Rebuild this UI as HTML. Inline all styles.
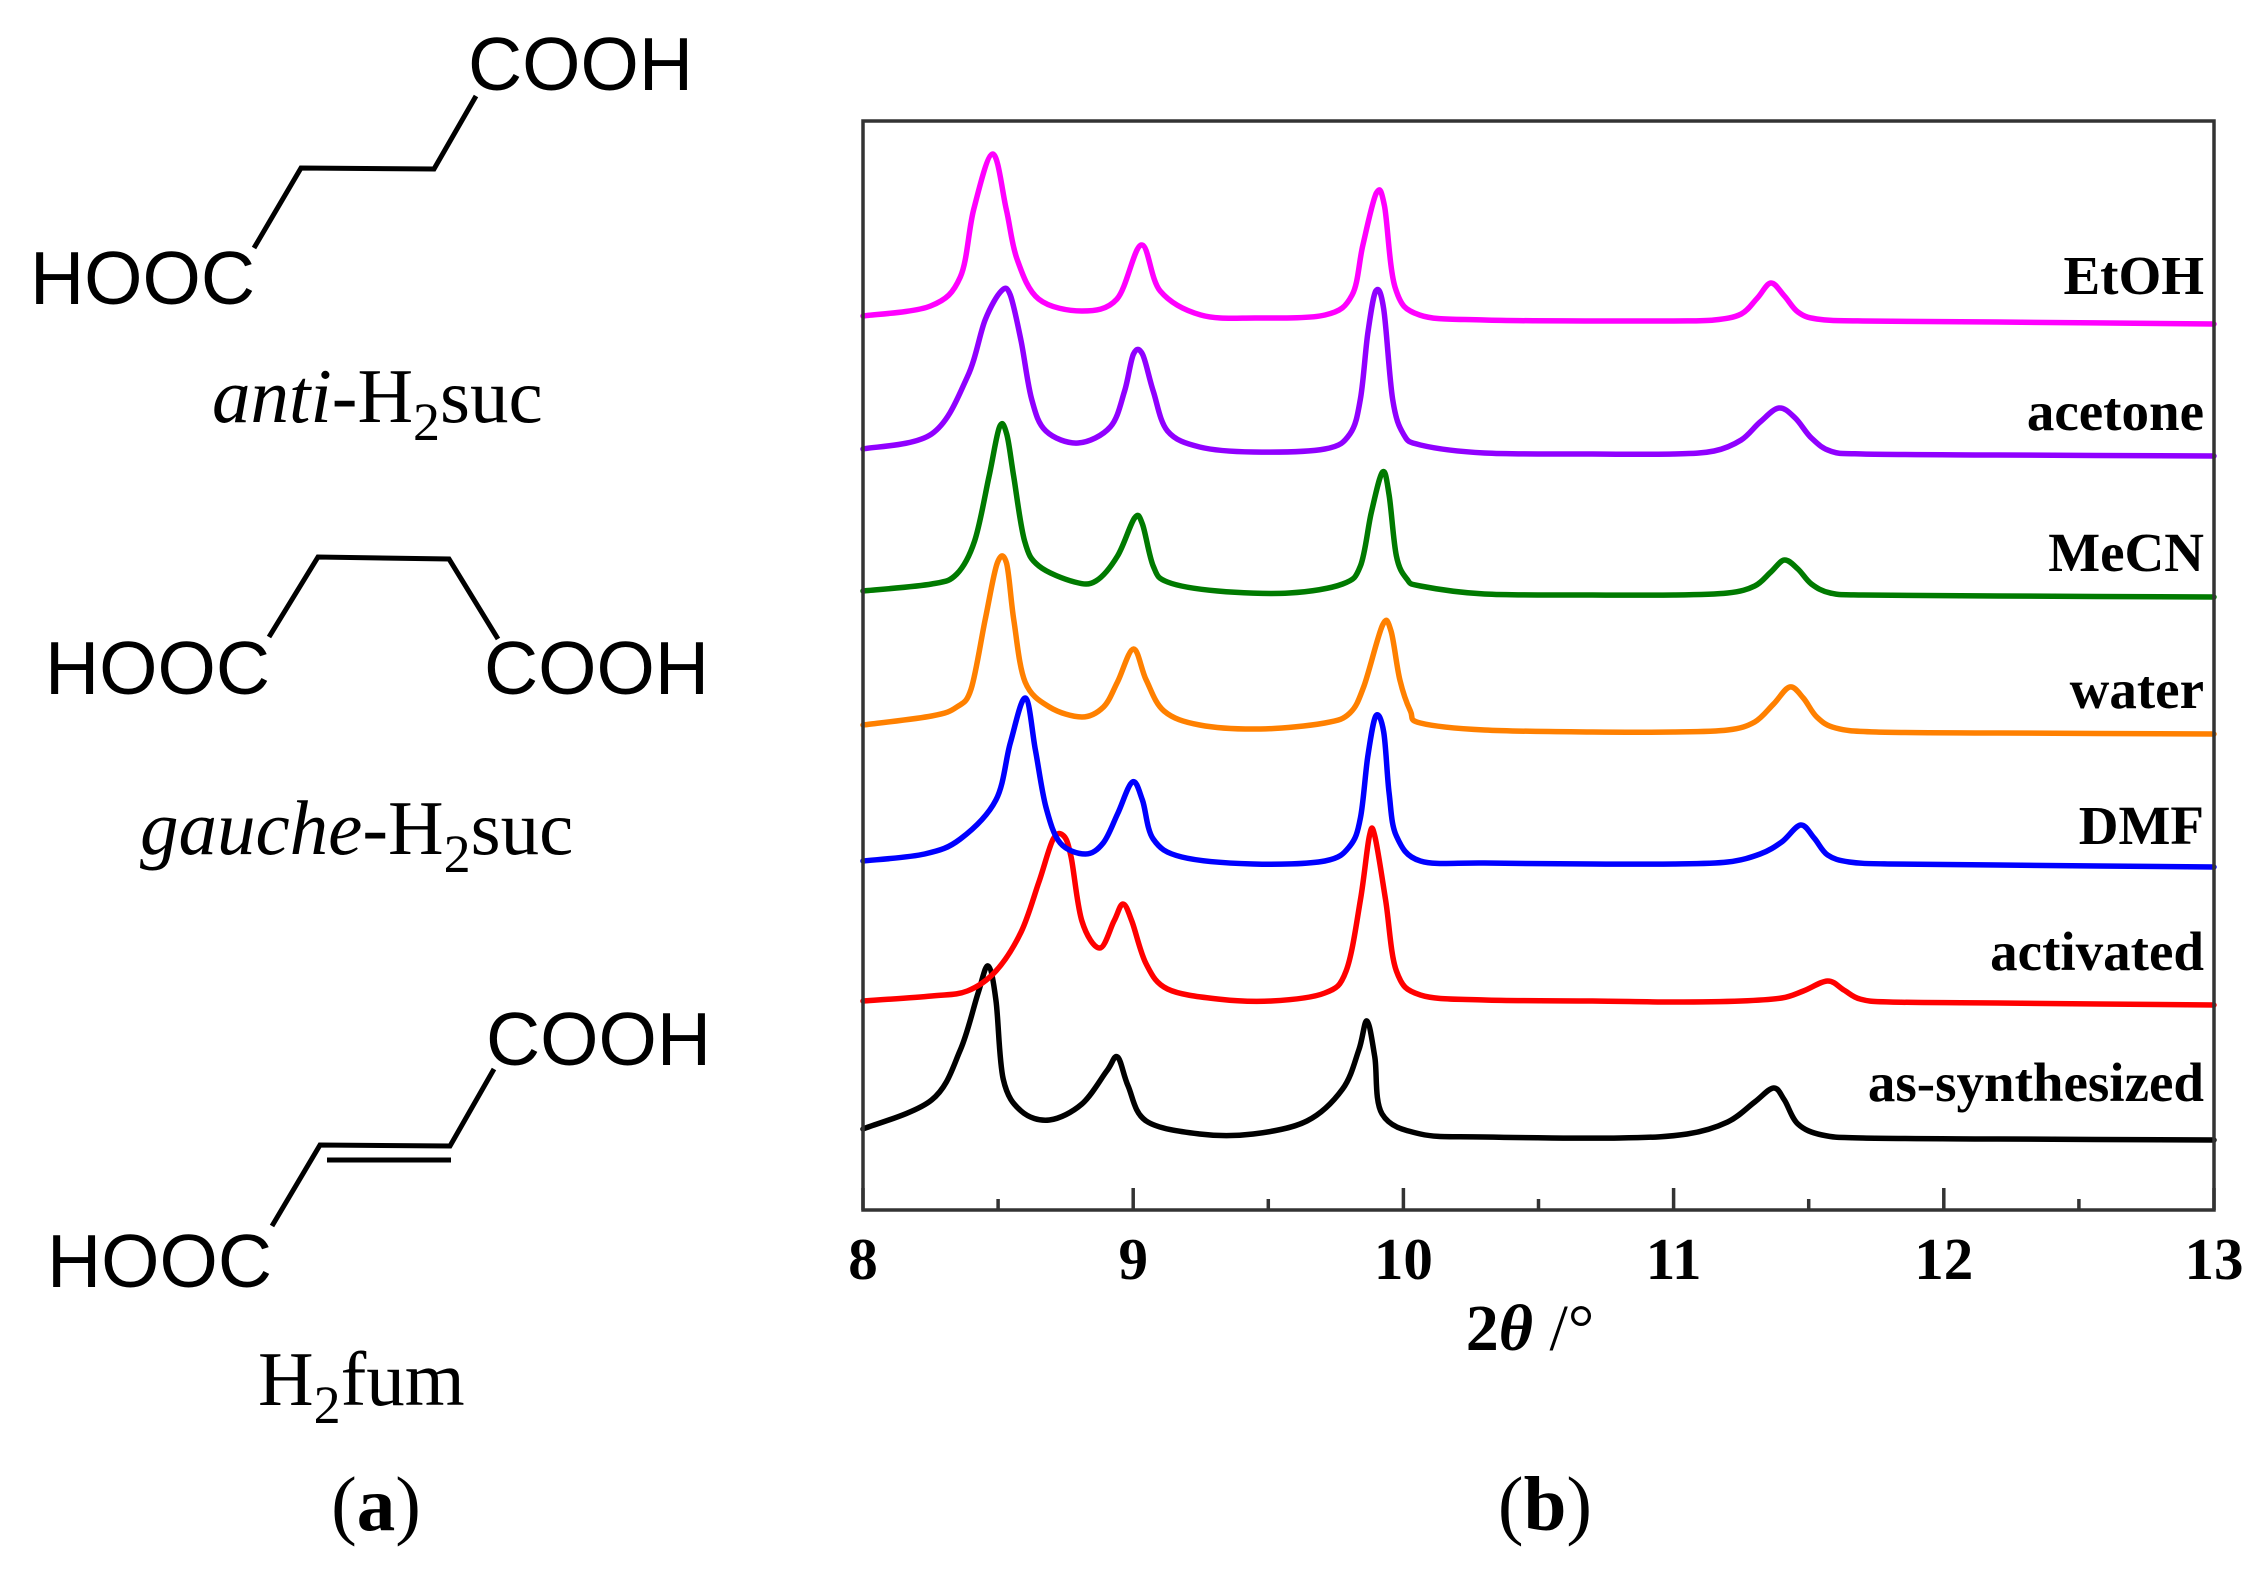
<!DOCTYPE html>
<html><head><meta charset="utf-8"><style>
html,body{margin:0;padding:0;background:#fff;}
svg{display:block;}
.chem{font-family:"Liberation Sans",Arial,sans-serif;font-size:75px;fill:#000;}
.cap{font-family:"Liberation Serif","Times New Roman",serif;font-size:77px;fill:#000;}
.lbl{font-family:"Liberation Serif","Times New Roman",serif;font-size:55px;font-weight:bold;fill:#000;}
.tick{font-family:"Liberation Serif","Times New Roman",serif;font-size:59px;font-weight:bold;fill:#000;}
</style></head><body>
<svg id="fig" width="2260" height="1577" viewBox="0 0 2260 1577" xmlns="http://www.w3.org/2000/svg">
<g id="panel-a">
  <g>
    <polyline points="476,96 434,169 301,168 254,248" fill="none" stroke="#000" stroke-width="5"/>
    <text class="chem" x="468" y="90">COOH</text>
    <text class="chem" x="30" y="304">HOOC</text>
    <text class="cap" x="212" y="422"><tspan font-style="italic">anti</tspan>-H<tspan font-size="54" dy="18">2</tspan><tspan dy="-18">suc</tspan></text>
  </g>
  <g>
    <polyline points="269,637 318,557 449,559 498,639" fill="none" stroke="#000" stroke-width="5"/>
    <text class="chem" x="45" y="694">HOOC</text>
    <text class="chem" x="484" y="694">COOH</text>
    <text class="cap" x="140" y="854"><tspan font-style="italic">gauche</tspan>-H<tspan font-size="54" dy="18">2</tspan><tspan dy="-18">suc</tspan></text>
  </g>
  <g>
    <polyline points="494,1069 450,1146 320,1145 272,1226" fill="none" stroke="#000" stroke-width="5"/>
    <line x1="327" y1="1160" x2="451" y2="1160" stroke="#000" stroke-width="5"/>
    <text class="chem" x="486" y="1065">COOH</text>
    <text class="chem" x="47" y="1287">HOOC</text>
    <text class="cap" x="258" y="1405">H<tspan font-size="54" dy="18">2</tspan><tspan dy="-18">fum</tspan></text>
  </g>
  <text class="cap" x="376" y="1530" text-anchor="middle">(<tspan font-weight="bold">a</tspan>)</text>
</g>
<g id="panel-b">
  <g id="series"></g>
  <g id="labels"></g>
  <rect x="863" y="121" width="1351" height="1089" fill="none" stroke="#333" stroke-width="3.5"/>
  <g id="xticks"></g>
  <text class="tick" x="1530" y="1350" text-anchor="middle" style="font-size:66px">2<tspan font-style="italic">θ</tspan><tspan font-weight="normal"> /°</tspan></text>
  <text class="cap" x="1545" y="1530" text-anchor="middle">(<tspan font-weight="bold">b</tspan>)</text>
</g>
</svg>
<script>
const seriesNames = ["EtOH","acetone","MeCN","water","DMF","activated","as-synthesized"];
const seriesColors = ["#ff00ff","#9000ff","#007a00","#ff8000","#0000ff","#ff0000","#000000"];
const labelValues = [916,780,639,502,366,240,109];
const xTicks = [8,9,10,11,12,13];
const xMinorTicks = [8.5,9.5,10.5,11.5,12.5];
const ethanol = [[8.0,894],[8.25,904],[8.36,933],[8.41,1001],[8.48,1056],[8.53,1001],[8.57,951],[8.65,911],[8.81,899],[8.94,911],[9.03,965],[9.10,919],[9.25,895],[9.45,892],[9.71,895],[9.81,915],[9.85,965],[9.90,1017],[9.93,1004],[9.97,922],[10.06,895],[10.3,890],[10.7,889],[11.0,889],[11.15,890],[11.25,896],[11.31,912],[11.36,927],[11.41,914],[11.46,898],[11.53,891],[11.7,889],[12.2,888],[13,886]];
const acetone = [[8.0,761],[8.254,776],[8.386,833],[8.452,890],[8.512,919],[8.545,915],[8.585,869],[8.624,811],[8.677,779],[8.796,767],[8.915,783],[8.968,819],[9.001,856],[9.034,856],[9.074,819],[9.127,779],[9.246,763],[9.444,758],[9.709,761],[9.802,776],[9.841,811],[9.868,876],[9.898,919],[9.927,901],[9.96,811],[10.0,776],[10.063,765],[10.3,757],[10.7,756],[11.0,756],[11.15,759],[11.25,770],[11.32,788],[11.39,802],[11.45,792],[11.51,772],[11.58,759],[11.7,756],[12.2,755],[13,754]];
const mecn = [[8.0,619],[8.254,626],[8.347,636],[8.413,669],[8.466,733],[8.505,783],[8.532,776],[8.558,733],[8.598,669],[8.651,644],[8.783,628],[8.862,629],[8.942,654],[9.005,692],[9.034,686],[9.074,644],[9.127,628],[9.312,619],[9.577,617],[9.775,626],[9.841,644],[9.881,697],[9.923,738],[9.947,715],[9.974,654],[10.013,631],[10.063,624],[10.3,616],[10.7,615],[11.0,615],[11.2,617],[11.3,624],[11.36,638],[11.41,650],[11.46,641],[11.51,626],[11.58,617],[11.7,615],[12.2,614],[13,613]];
const water = [[8.0,485],[8.254,494],[8.347,503],[8.40,521],[8.452,590],[8.497,647],[8.531,647],[8.558,590],[8.60,528],[8.69,503],[8.81,493],[8.89,503],[8.942,528],[9.001,561],[9.048,530],[9.114,499],[9.246,485],[9.471,481],[9.709,487],[9.802,497],[9.854,524],[9.923,585],[9.954,579],[9.987,530],[10.026,499],[10.063,487],[10.3,480],[10.7,478],[11.0,478],[11.2,480],[11.3,488],[11.37,506],[11.43,523],[11.48,512],[11.53,493],[11.6,482],[11.75,478],[12.2,477],[13,476]];
const dmf = [[8.0,349],[8.228,356],[8.36,371],[8.492,410],[8.545,467],[8.601,512],[8.638,460],[8.677,403],[8.73,367],[8.823,356],[8.889,367],[8.942,396],[8.997,428],[9.034,410],[9.074,371],[9.18,353],[9.444,346],[9.709,349],[9.802,364],[9.841,392],[9.868,453],[9.898,494],[9.927,478],[9.947,417],[9.974,374],[10.063,349],[10.3,347],[10.7,346],[11.0,346],[11.2,348],[11.32,356],[11.4,368],[11.47,385],[11.52,372],[11.57,355],[11.65,348],[11.8,346],[12.2,345],[13,343]];
const activated = [[8.0,209],[8.254,214],[8.386,219],[8.492,239],[8.585,278],[8.651,328],[8.704,371],[8.743,374],[8.77,353],[8.81,289],[8.876,262],[8.929,289],[8.962,306],[8.995,289],[9.048,246],[9.127,221],[9.312,211],[9.511,209],[9.709,217],[9.788,239],[9.841,310],[9.874,374],[9.894,374],[9.934,310],[9.974,239],[10.063,215],[10.3,210],[10.7,209],[11.0,208],[11.25,209],[11.4,212],[11.48,219],[11.57,229],[11.63,220],[11.69,211],[11.8,208],[12.2,207],[13,205]];
const asSynthesized = [[8.0,81],[8.254,110],[8.36,160],[8.426,217],[8.463,244],[8.492,210],[8.519,131],[8.585,99],[8.69,90],[8.81,106],[8.902,139],[8.942,153],[8.981,124],[9.048,89],[9.246,76],[9.444,76],[9.643,89],[9.775,121],[9.835,160],[9.865,189],[9.894,153],[9.921,96],[10.063,76],[10.3,73],[10.8,72],[11.05,76],[11.2,88],[11.3,108],[11.37,122],[11.41,110],[11.46,86],[11.55,75],[11.7,72],[12.2,71],[13,70]];
const seriesData = [ethanol, acetone, mecn, water, dmf, activated, asSynthesized];

const NS = "http://www.w3.org/2000/svg";
const X0 = 863, X1 = 2214, Y0 = 1210;
function xScale(v){ return X0 + (v - 8) / 5 * (X1 - X0); }
function yScale(v){ return Y0 - v; }
function smoothPath(pts){
  const p = pts.map(d => [xScale(d[0]), yScale(d[1])]);
  let s = "M" + p[0][0].toFixed(1) + "," + p[0][1].toFixed(1);
  for (let i = 0; i < p.length - 1; i++){
    const a = p[i-1] || p[i], b = p[i], c = p[i+1], d = p[i+2] || c;
    const c1 = [b[0] + (c[0]-a[0])/6, b[1] + (c[1]-a[1])/6];
    const c2 = [c[0] - (d[0]-b[0])/6, c[1] - (d[1]-b[1])/6];
    s += " C" + c1[0].toFixed(1) + "," + c1[1].toFixed(1) + " " + c2[0].toFixed(1) + "," + c2[1].toFixed(1) + " " + c[0].toFixed(1) + "," + c[1].toFixed(1);
  }
  return s;
}
const gS = document.getElementById("series");
const gL = document.getElementById("labels");
for (let i = seriesData.length - 1; i >= 0; i--){
  const path = document.createElementNS(NS, "path");
  path.setAttribute("d", smoothPath(seriesData[i]));
  path.setAttribute("fill", "none");
  path.setAttribute("stroke", seriesColors[i]);
  path.setAttribute("stroke-width", "5.5");
  path.setAttribute("stroke-linejoin", "round");
  path.setAttribute("stroke-linecap", "round");
  
  
  gS.appendChild(path);
}
for (let i = 0; i < seriesNames.length; i++){
  const t = document.createElementNS(NS, "text");
  t.setAttribute("class", "lbl");
  t.setAttribute("x", 2204);
  t.setAttribute("y", yScale(labelValues[i]));
  t.setAttribute("text-anchor", "end");
  t.textContent = seriesNames[i];
  
  
  gL.appendChild(t);
}
const gT = document.getElementById("xticks");
xTicks.forEach(v => {
  const l = document.createElementNS(NS, "line");
  l.setAttribute("x1", xScale(v)); l.setAttribute("x2", xScale(v));
  l.setAttribute("y1", Y0); l.setAttribute("y2", Y0 - 22);
  l.setAttribute("stroke", "#333"); l.setAttribute("stroke-width", "3.5");
  
  
  gT.appendChild(l);
  const t = document.createElementNS(NS, "text");
  t.setAttribute("class", "tick");
  t.setAttribute("x", xScale(v)); t.setAttribute("y", 1279);
  t.setAttribute("text-anchor", "middle");
  t.textContent = v;
  
  
  gT.appendChild(t);
});
xMinorTicks.forEach(v => {
  const l = document.createElementNS(NS, "line");
  l.setAttribute("x1", xScale(v)); l.setAttribute("x2", xScale(v));
  l.setAttribute("y1", Y0); l.setAttribute("y2", Y0 - 11);
  l.setAttribute("stroke", "#333"); l.setAttribute("stroke-width", "3.5");
  
  
  gT.appendChild(l);
});
</script>
</body></html>
